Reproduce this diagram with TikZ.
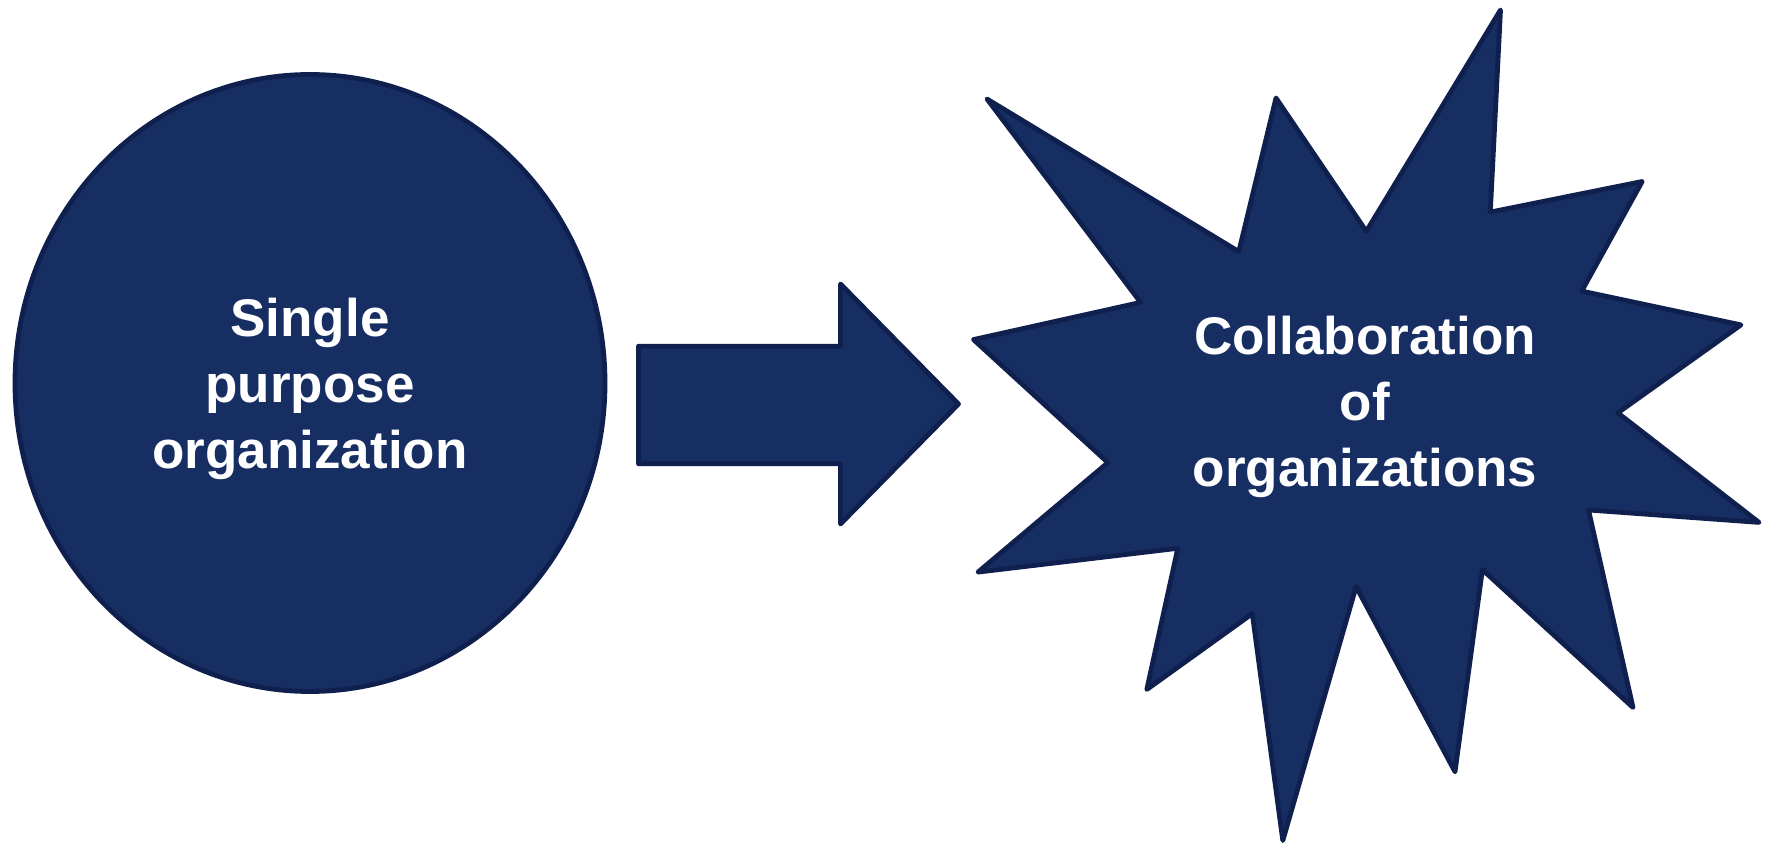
\documentclass[tikz,border=0pt]{standalone}
\usepackage{fontspec}
\setmainfont{Liberation Sans}
\usepackage{xcolor}
\usetikzlibrary{shapes.geometric}
\definecolor{navy}{RGB}{23,46,99}
\definecolor{navyline}{RGB}{15,32,78}
\tikzset{
  shapefill/.style={fill=navy,draw=navyline,line width=2.4pt,line join=round},
  label text/.style={text=white,align=center,font=\fontsize{26.5}{33}\selectfont\bfseries}
}
\begin{document}
\begin{tikzpicture}[x=0.5pt,y=-0.5pt]
  \useasboundingbox (0,0) rectangle (1769,849);

  % left: the single organization
  \node[ellipse,shapefill,inner sep=0pt,
        minimum width=295pt,minimum height=308.5pt] (single) at (310,383) {};
  \node[label text] (singletext) at (310,389) {Single\\purpose\\organization};

  % block arrow
  \draw[shapefill] (638.5,346.2) -- (840.5,346.2) -- (840.5,284) -- (958.5,404)
    -- (840.5,524) -- (840.5,463.8) -- (638.5,463.8) -- cycle;

  % right: the burst
  \draw[shapefill] (1500.5,10) -- (1490.3,212.1) -- (1642.2,181.5) -- (1581.7,291.1)
    -- (1741,324.9) -- (1617.8,412.9) -- (1759,522.4) -- (1588.5,510)
    -- (1633,707.5) -- (1482.4,569.7) -- (1455,771.8) -- (1356.1,586.7)
    -- (1282.8,840.6) -- (1252.3,613.7) -- (1146.8,689.5) -- (1177.8,548.3)
    -- (978,572.1) -- (1107.9,462.6) -- (973.5,339.6) -- (1140.6,302.4)
    -- (987,99) -- (1238.8,251.6) -- (1276,98) -- (1366.3,231.3) -- cycle;
  \node[label text] (collab) at (1365,407) {Collaboration\\of\\organizations};
\end{tikzpicture}
\end{document}
